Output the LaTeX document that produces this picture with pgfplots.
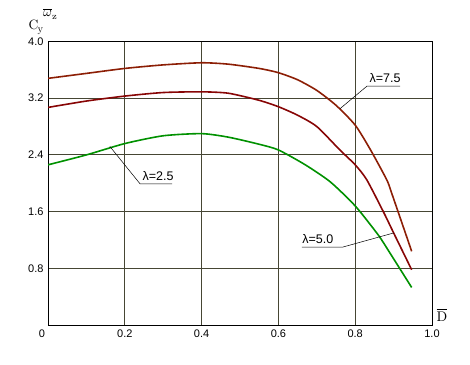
\documentclass[border=0pt]{standalone}
\usepackage[no-math]{fontspec}
\setmainfont{Liberation Sans}
\usepackage{pgfplots}
\pgfplotsset{compat=1.18}
\definecolor{gridc}{RGB}{70,70,52}
\definecolor{cA}{RGB}{140,30,5}
\definecolor{cB}{RGB}{135,5,5}
\definecolor{cC}{RGB}{0,145,0}
\begin{document}
\begin{tikzpicture}
\path[use as bounding box] (-48pt,-39pt) rectangle (422pt,325pt);
\begin{axis}[
  scale only axis, width=384pt, height=283.5pt,
  xmin=0, xmax=1, ymin=0, ymax=4,
  xtick={0,0.2,0.4,0.6,0.8,1.0},
  xticklabels={\makebox[0pt][r]{0\hspace{3pt}},0.2,0.4,0.6,0.8,1.0},
  ytick={0.8,1.6,2.4,3.2,4.0},
  yticklabels={0.8,1.6,2.4,3.2,4.0},
  grid=major,
  major grid style={draw=gridc, line width=0.9pt},
  major tick length=0pt,
  axis line style={black, line width=0.8pt},
  tick label style={font=\fontsize{11}{13}\selectfont, text=black},
  /pgf/number format/assume math mode=true,
  xticklabel style={yshift=-1pt},
  yticklabel style={xshift=-1pt},
]
\addplot[cA, line width=1.6pt, smooth, tension=0.4] coordinates {
(0,3.48) (0.1,3.55) (0.2,3.62) (0.3,3.67) (0.4,3.70) (0.47,3.68) (0.55,3.62)
(0.6,3.56) (0.65,3.46) (0.70,3.31) (0.75,3.10) (0.8,2.82) (0.84,2.47)
(0.882,2.05) (0.895,1.86) (0.947,1.04)};
\addplot[cB, line width=1.6pt, smooth, tension=0.4] coordinates {
(0,3.07) (0.1,3.16) (0.2,3.23) (0.3,3.28) (0.4,3.29) (0.47,3.27) (0.55,3.17)
(0.6,3.08) (0.65,2.96) (0.70,2.80) (0.76,2.47) (0.8,2.26) (0.83,2.05)
(0.875,1.58) (0.90,1.30) (0.947,0.78)};
\addplot[cC, line width=1.6pt, smooth, tension=0.4] coordinates {
(0,2.26) (0.1,2.40) (0.2,2.56) (0.3,2.67) (0.4,2.70) (0.47,2.65) (0.55,2.55)
(0.6,2.47) (0.67,2.26) (0.735,2.02) (0.8,1.68) (0.86,1.27) (0.89,1.02) (0.947,0.53)};
% labels
\draw[black, line width=0.5pt] (axis cs:0.760,3.05) -- (axis cs:0.831,3.372) -- (axis cs:0.917,3.372);
\node[anchor=base west, inner sep=0pt, font=\fontsize{12.5}{14}\selectfont] at (axis cs:0.837,3.42) {λ=7.5};
\draw[black, line width=0.5pt] (axis cs:0.161,2.52) -- (axis cs:0.240,1.99) -- (axis cs:0.323,1.99);
\node[anchor=base west, inner sep=0pt, font=\fontsize{12.5}{14}\selectfont] at (axis cs:0.246,2.04) {λ=2.5};
\draw[black, line width=0.5pt] (axis cs:0.901,1.30) -- (axis cs:0.768,1.10) -- (axis cs:0.661,1.10);
\node[anchor=base west, inner sep=0pt, font=\fontsize{12.5}{14}\selectfont] at (axis cs:0.662,1.15) {λ=5.0};
\end{axis}
\node[anchor=base west, inner sep=0pt] at (-19.5pt,295pt) {\scalebox{1.35}{$\mathrm{C}$}};
\node[anchor=base west, inner sep=0pt] at (-10.5pt,292.5pt) {\scalebox{1.05}{$\mathrm{y}$}};
\node[anchor=base west, inner sep=0pt] at (-5pt,308pt) {\scalebox{1.35}{$\overline{\omega}_{\mathrm{z}}$}};
\node[anchor=center] at (394pt,10pt) {\scalebox{1.4}{$\overline{\mathrm{D}}$}};
\end{tikzpicture}
\end{document}
